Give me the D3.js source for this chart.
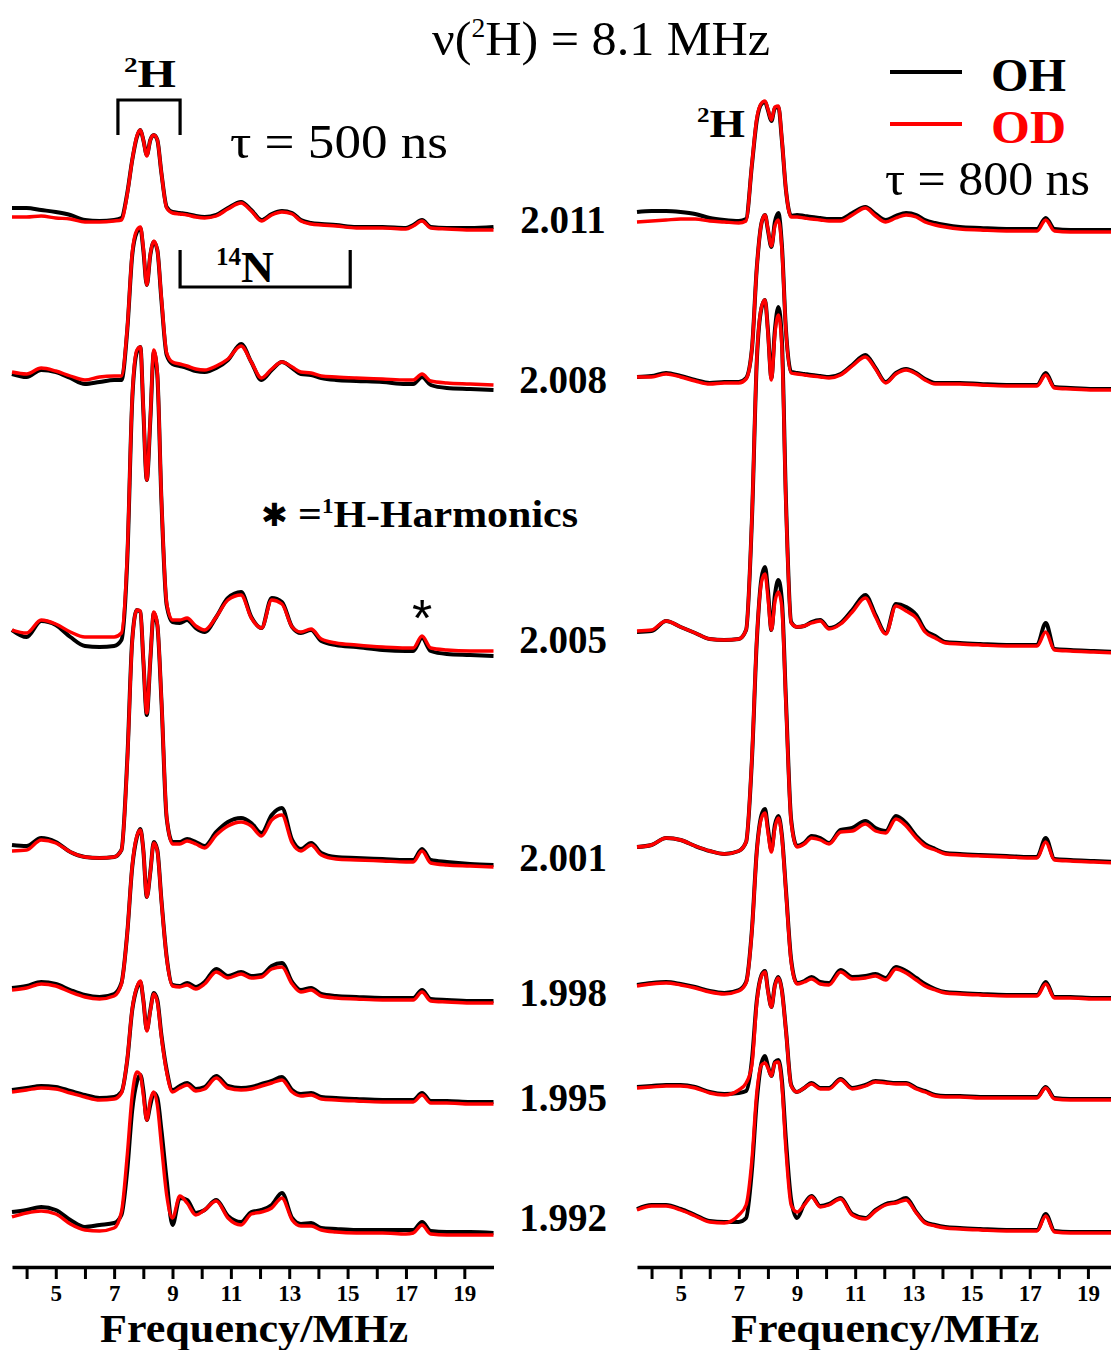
<!DOCTYPE html>
<html>
<head>
<meta charset="utf-8">
<script src="https://cdn.jsdelivr.net/npm/d3@7"></script>
<style>
  html, body { margin: 0; padding: 0; background: #fff; }
  svg { display: block; font-family: "Liberation Serif", "Times New Roman", serif; }
</style>
</head>
<body>
<svg id="chart" width="1111" height="1350"></svg>
<script>
// ---- Frequency grid (MHz) shared by every spectrum ----
const freqMHz = [3.5, 4.0, 4.5, 5.0, 5.5, 6.0, 6.5, 7.0,
  7.25, 7.45, 7.62, 7.78, 7.9, 8.0, 8.12, 8.24, 8.36, 8.48, 8.62, 8.8,
  9.0, 9.25, 9.5, 9.8, 10.1, 10.5, 10.9, 11.35, 11.7, 12.05,
  12.4, 12.75, 13.1, 13.4, 13.75, 14.1, 14.6, 15.3, 16.2, 17.0,
  17.25, 17.55, 17.85, 18.4, 19.2, 20.0];

// g-values of the field positions, top to bottom
const gValues = ["2.011", "2.008", "2.005", "2.001", "1.998", "1.995", "1.992"];

// ---- tau = 500 ns spectra (intensity, a.u.) ----
const ohL2011 = [20,20,18,16,13,8,7,8, 10,35,68,91,98,88,73,88,93,88,55,21, 16,15,14,12,11,13,20,26,18,8, 14,17,15,8,5,4,3,1,1,0, 3,8,1,0,0,1];
const odL2011 = [11,11,12,10,9,6,6,7, 8,34,68,92,98,88,72,88,93,88,55,20, 15,14,13,11,10,12,19,25,17,7, 13,16,14,7,4,3,2,0,0,-1, 2,7,0,-1,-2,-2];
const ohL2008 = [16,13,20,18,12,6,8,10, 10,60,135,158,162,140,105,135,148,140,90,35, 26,24,22,19,18,22,30,46,28,10, 20,28,22,16,15,12,10,9,8,6, 6,13,5,2,1,0];
const odL2008 = [18,16,22,19,14,10,13,14, 14,62,137,160,163,142,105,136,149,140,92,37, 28,26,24,21,20,24,31,44,28,12, 21,28,23,18,17,14,13,12,11,10, 10,16,9,7,6,5];
const ohL2005 = [26,19,35,31,19,10,9,10, 16,96,256,304,309,246,176,236,304,281,156,51, 34,33,36,28,24,39,58,64,39,28, 58,54,29,23,26,15,11,9,6,5, 5,18,5,2,1,0];
const odL2005 = [26,23,36,32,24,19,19,19, 23,101,258,306,309,248,176,238,306,283,158,53, 36,36,38,30,26,39,56,61,38,28, 56,52,29,24,27,17,13,11,9,8, 8,20,8,6,5,5];
const ohL2001 = [20,19,27,23,13,8,7,8, 15,105,225,255,253,205,150,205,252,240,165,47, 23,23,26,23,19,33,43,47,42,32, 50,57,25,16,22,12,8,7,6,5, 5,16,5,3,1,0];
const odL2001 = [14,15,25,22,13,8,7,8, 15,103,224,255,254,206,152,206,253,241,166,48, 21,21,24,21,17,30,39,43,39,29, 45,50,22,14,20,10,6,5,4,3, 3,14,2,0,-1,-2];
const ohL1998 = [13,15,19,17,11,6,4,7, 18,68,134,164,172,151,104,129,159,151,101,44, 16,15,18,14,19,32,25,29,25,26, 35,38,19,11,13,7,5,4,3,3, 3,11,2,1,0,0];
const odL1998 = [11,13,17,15,9,4,2,5, 17,68,135,165,171,151,104,129,158,150,100,43, 15,14,16,12,17,29,23,27,23,24, 32,34,17,9,11,5,3,2,1,1, 1,9,0,-1,-2,-2];
const ohL1995 = [12,14,16,15,11,7,4,5, 10,42,92,114,120,102,72,92,109,102,67,32, 12,16,19,13,15,26,16,14,15,18, 21,25,12,8,9,5,4,3,2,2, 2,9,1,1,0,0];
const odL1995 = [10,12,14,13,9,5,2,3, 9,43,93,115,121,102,71,91,108,100,65,30, 10,14,17,11,13,24,14,12,13,16, 19,22,10,6,7,3,2,1,0,0, 0,7,-1,-1,-2,-2];
const ohL1992 = [21,23,26,23,13,6,8,10, 18,63,123,151,158,143,113,128,140,135,103,53, 8,35,33,20,23,33,17,11,21,23, 28,40,15,9,10,5,4,3,3,3, 3,11,2,1,1,0];
const odL1992 = [16,20,22,19,9,3,2,5, 21,78,138,161,158,138,113,133,141,128,88,38, 15,37,30,18,23,32,15,8,19,21, 25,35,13,7,7,3,1,0,0,-1, 0,8,-1,-2,-2,-2];

// ---- tau = 800 ns spectra (intensity, a.u.) ----
const ohR2011 = [18,19,19,18,16,12,10,9, 11,65,110,126,128,120,109,122,123,90,40,14, 15,14,13,12,11,11,17,23,16,10, 14,17,15,10,7,5,3,2,1,1, 1,12,1,0,0,0];
const odR2011 = [8,9,10,11,11,9,8,7, 9,66,112,127,129,121,110,123,124,91,40,13, 13,12,11,10,9,9,15,22,14,8, 12,15,13,8,5,3,1,0,-1,-1, -1,10,-1,-2,-2,-2];
const ohR2008 = [12,13,16,13,9,6,7,7, 11,40,122,166,174,159,142,167,176,144,59,17, 16,15,14,13,12,15,24,34,21,7, 16,20,16,10,6,6,6,5,4,4, 4,16,2,1,0,0];
const odR2008 = [12,12,15,12,8,5,6,6, 10,40,122,166,174,160,143,163,169,140,58,16, 15,14,13,12,11,14,23,32,20,6, 15,19,15,9,5,5,5,4,3,3, 3,14,1,0,-1,-1];
const ohR2005 = [20,21,31,25,19,13,12,13, 22,132,292,344,352,322,274,322,345,312,152,30, 25,26,30,32,24,29,42,57,37,19, 48,45,37,22,16,10,9,8,7,7, 7,29,3,2,1,0];
const odR2005 = [21,22,31,25,19,13,12,13, 22,134,294,345,352,320,272,318,337,305,148,29, 25,26,29,31,23,28,40,54,35,18, 46,41,34,20,14,9,8,7,6,6, 6,20,2,1,0,-1];
const ohR2001 = [15,17,24,22,16,11,8,11, 20,102,222,284,295,272,232,267,282,262,162,42, 16,19,26,24,19,32,34,41,34,31, 46,39,26,18,13,9,8,7,6,5, 5,24,3,2,1,0];
const odR2001 = [15,17,24,22,16,11,8,11, 20,104,224,280,288,265,232,260,270,255,158,40, 15,18,24,22,18,30,31,38,31,29, 43,36,24,16,12,8,7,6,5,4, 4,20,2,1,0,-1];
const ohR1998 = [13,15,16,14,11,7,5,8, 16,68,148,183,189,170,148,173,182,163,108,38, 15,17,21,16,15,28,21,22,24,20, 31,27,20,14,9,6,5,4,3,3, 3,16,1,1,0,0];
const odR1998 = [12,14,15,13,10,6,4,7, 15,67,147,180,185,166,146,170,180,161,106,36, 14,16,19,14,13,26,19,20,22,18, 29,25,18,12,8,5,4,3,2,2, 2,14,0,0,-1,-1];
const ohR1995 = [12,13,14,14,12,7,5,6, 8,39,99,124,128,109,92,114,122,109,69,14, 7,11,16,11,11,20,11,14,18,17, 16,16,11,8,4,3,3,2,2,2, 2,12,1,0,0,0];
const odR1995 = [11,12,13,13,11,6,4,9, 16,34,97,123,127,108,92,113,121,108,68,13, 7,11,15,10,10,19,10,13,17,16, 15,15,10,7,3,2,2,1,1,1, 1,11,0,-1,-1,-1];
const ohR1992 = [23,27,27,23,17,11,10,10, 14,62,132,169,176,166,156,170,172,152,92,32, 14,28,36,26,28,34,18,14,22,28, 30,34,20,10,7,5,4,3,2,2, 2,18,1,0,0,0];
const odR1992 = [22,26,26,22,16,10,9,17, 27,72,140,167,169,164,156,169,170,147,82,27, 20,27,35,25,27,33,17,13,21,27, 29,32,19,9,6,4,3,2,1,1, 1,16,0,-1,-1,-1];

// Vertical stacking offsets (a.u.) of each spectrum, top to bottom
const stackLeft  = [1072, 910, 644, 435, 299, 198, 67];
const stackRight = [1070, 911, 648, 438, 302, 201, 68];

// Axis ticks
const tickMHz = [4,5,6,7,8,9,10,11,12,13,14,15,16,17,18,19];
const tickLabelMHz = [5,7,9,11,13,15,17,19];

// Annotation brackets (MHz)
const bracket2H  = [7.13, 9.26];
const bracket14N = [9.26, 15.09];

// ---------------------------------------------------------------
const svg = d3.select("#chart");
const W = 1111, H = 1350;
svg.append("rect").attr("width", W).attr("height", H).attr("fill", "#fff");

const xL = d3.scaleLinear().domain([3.5, 20]).range([12, 493.5]);
const xR = d3.scaleLinear().domain([3.5, 20]).range([637, 1117]);
const y  = d3.scaleLinear().domain([0, 1300]).range([1300, 0]);

const ohLeft  = [ohL2011, ohL2008, ohL2005, ohL2001, ohL1998, ohL1995, ohL1992];
const odLeft  = [odL2011, odL2008, odL2005, odL2001, odL1998, odL1995, odL1992];
const ohRight = [ohR2011, ohR2008, ohR2005, ohR2001, ohR1998, ohR1995, ohR1992];
const odRight = [odR2011, odR2008, odR2005, odR2001, odR1998, odR1995, odR1992];

function drawPanel(x, ohSet, odSet, offsets) {
  const g = svg.append("g");
  gValues.forEach((gv, i) => {
    const base = offsets[i];
    const line = d3.line()
      .x((d, k) => x(freqMHz[k]))
      .y(d => y(base + d))
      .curve(d3.curveMonotoneX);
    g.append("path").datum(ohSet[i])
      .attr("d", line).attr("fill", "none")
      .attr("stroke", "#000").attr("stroke-width", 4)
      .attr("stroke-linejoin", "round");
    g.append("path").datum(odSet[i])
      .attr("d", line).attr("fill", "none")
      .attr("stroke", "#ff0000").attr("stroke-width", 3.4)
      .attr("stroke-linejoin", "round");
  });
}
drawPanel(xL, ohLeft, odLeft, stackLeft);
drawPanel(xR, ohRight, odRight, stackRight);

// ---- frequency axes ----
function drawAxis(x, cx) {
  const ax = d3.axisBottom(x)
    .tickValues(tickMHz)
    .tickSize(12)
    .tickSizeOuter(0)
    .tickPadding(4)
    .tickFormat(d => tickLabelMHz.includes(d) ? d : "");
  const g = svg.append("g").attr("transform", "translate(0,1267)").call(ax);
  g.attr("font-family", null).attr("font-size", null);
  g.select(".domain").attr("stroke", "#000").attr("stroke-width", 3.5);
  g.selectAll(".tick line").attr("stroke", "#000").attr("stroke-width", 3);
  g.selectAll(".tick text")
    .style("font-family", '"Liberation Serif", serif')
    .style("font-weight", "bold").style("font-size", "23px")
    .attr("fill", "#000").attr("y", 16).attr("dy", "0.78em");
  svg.append("text").attr("x", cx).attr("y", 1342)
    .attr("text-anchor", "middle").attr("font-weight", "bold")
    .attr("font-size", 40)
    .attr("textLength", 308).attr("lengthAdjust", "spacingAndGlyphs")
    .text("Frequency/MHz");
}
drawAxis(xL, 254);
drawAxis(xR, 885);

// ---- g-value labels ----
const gLabelBase = [233, 393, 653, 871, 1006, 1111, 1231];
svg.append("g").selectAll("text").data(gValues).join("text")
  .attr("x", 563).attr("y", (d, i) => gLabelBase[i])
  .attr("text-anchor", "middle").attr("font-weight", "bold")
  .attr("font-size", 39).text(d => d);

// ---- annotations ----
function supText(x, yb, size, sup, main, opts = {}) {
  const t = svg.append("text").attr("x", x).attr("y", yb)
    .attr("font-size", size)
    .attr("font-weight", opts.bold ? "bold" : "normal")
    .attr("fill", opts.fill || "#000");
  if (opts.pre) t.append("tspan").text(opts.pre);
  t.append("tspan").attr("font-size", size * 0.55).attr("dy", -size * 0.38).text(sup);
  t.append("tspan").attr("dy", size * 0.38).text(main);
  if (opts.len) t.attr("textLength", opts.len).attr("lengthAdjust", "spacingAndGlyphs");
  return t;
}

// title
supText(432, 55, 48, "2", "H) = 8.1 MHz", { pre: "\u03bd(", len: 338 });

// deuterium label + bracket (left)
supText(124, 87, 40, "2", "H", { bold: true, len: 52 });
const b2 = [xL(bracket2H[0]), xL(bracket2H[1])];
svg.append("path")
  .attr("d", `M${b2[0]},135V100H${b2[1]}V135`)
  .attr("fill", "none").attr("stroke", "#000").attr("stroke-width", 3.2);

// nitrogen bracket
const b14 = [xL(bracket14N[0]), xL(bracket14N[1])];
svg.append("path")
  .attr("d", `M${b14[0]},250V287H${b14[1]}V250`)
  .attr("fill", "none").attr("stroke", "#000").attr("stroke-width", 3.2);
supText(216, 282, 44, "14", "N", { bold: true, len: 58 });

// tau labels
svg.append("text").attr("x", 230).attr("y", 158).attr("font-size", 48)
  .attr("textLength", 218).attr("lengthAdjust", "spacingAndGlyphs")
  .text("\u03c4 = 500 ns");
svg.append("text").attr("x", 885).attr("y", 195).attr("font-size", 48)
  .attr("textLength", 205).attr("lengthAdjust", "spacingAndGlyphs")
  .text("\u03c4 = 800 ns");

// deuterium label (right)
supText(697, 137, 40, "2", "H", { bold: true, len: 48 });

// harmonics note
svg.append("text").attr("x", 261).attr("y", 526)
  .attr("font-family", '"DejaVu Sans", sans-serif').attr("font-size", 32)
  .text("\u2731");
supText(298, 527, 38, "1", "H-Harmonics", { bold: true, pre: "=", len: 280 });

// harmonic marker on the 2.005 trace
svg.append("text").attr("x", xL(17.55)).attr("y", 636)
  .attr("text-anchor", "middle")
  .attr("font-family", '"Liberation Sans", sans-serif').attr("font-size", 52)
  .text("*");

// ---- legend ----
const legend = [
  { name: "OH", color: "#000", y: 72 },
  { name: "OD", color: "#ff0000", y: 124 }
];
const lg = svg.append("g");
lg.selectAll("line").data(legend).join("line")
  .attr("x1", 890).attr("x2", 962)
  .attr("y1", d => d.y).attr("y2", d => d.y)
  .attr("stroke", d => d.color).attr("stroke-width", 4);
lg.selectAll("text").data(legend).join("text")
  .attr("x", 991).attr("y", d => d.y + 19)
  .attr("font-weight", "bold").attr("font-size", 46)
  .attr("textLength", 75).attr("lengthAdjust", "spacingAndGlyphs")
  .attr("fill", d => d.color).text(d => d.name);
</script>
</body>
</html>
